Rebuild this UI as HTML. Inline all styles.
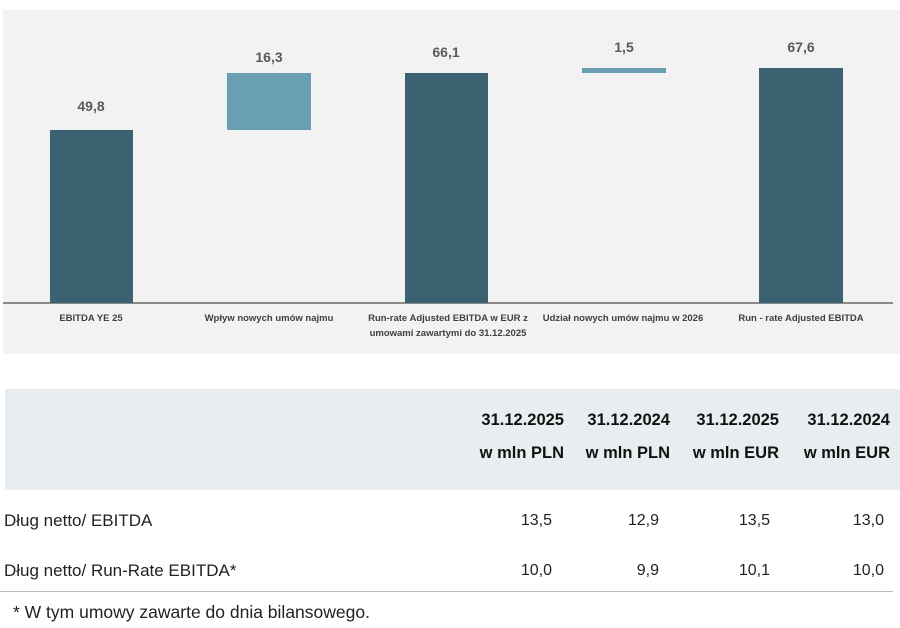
<!DOCTYPE html>
<html><head><meta charset="utf-8"><style>
body{margin:0;width:900px;height:628px;background:#fff;position:relative;font-family:"Liberation Sans",sans-serif;overflow:hidden}
.a{position:absolute}
.bar{position:absolute;background:#3c6272}
.v{position:absolute;width:120px;text-align:center;font-weight:bold;font-size:14px;color:#595959}
.c{position:absolute;width:200px;text-align:center;font-size:9.5px;font-weight:bold;color:#404040;line-height:15px}
.h{position:absolute;font-weight:bold;font-size:16.5px;color:#111;text-align:right;width:110px}
.t{position:absolute;font-size:16px;color:#222;text-align:right;width:110px}
</style></head><body>
<div class="a" style="left:3px;top:10px;width:897px;height:344px;background:#f2f2f2"></div>
<div class="a" style="left:3px;top:302px;width:890px;height:2px;background:#8a8a8a"></div>
<div class="bar" style="left:50px;top:130px;width:83px;height:173px"></div>
<div class="bar" style="left:227px;top:73px;width:84px;height:57px;background:#6a9fb3"></div>
<div class="bar" style="left:405px;top:73px;width:83px;height:230px"></div>
<div class="bar" style="left:582px;top:68px;width:84px;height:5px;background:#6a9fb3"></div>
<div class="bar" style="left:759px;top:68px;width:84px;height:235px"></div>
<div class="v" style="left:31px;top:98px">49,8</div>
<div class="v" style="left:209px;top:49px">16,3</div>
<div class="v" style="left:386px;top:44px">66,1</div>
<div class="v" style="left:564px;top:39px">1,5</div>
<div class="v" style="left:741px;top:39px">67,6</div>
<div class="c" style="left:-9px;top:311px">EBITDA YE 25</div>
<div class="c" style="left:169px;top:311px">Wpływ nowych umów najmu</div>
<div class="c" style="left:348px;top:311px">Run-rate Adjusted EBITDA w EUR z<br>umowami zawartymi do 31.12.2025</div>
<div class="c" style="left:523px;top:311px">Udział nowych umów najmu w 2026</div>
<div class="c" style="left:701px;top:311px">Run - rate Adjusted EBITDA</div>
<div class="a" style="left:5px;top:389px;width:895px;height:101px;background:#e8eef0"></div>
<div class="h" style="left:454px;top:411px">31.12.2025</div>
<div class="h" style="left:560px;top:411px">31.12.2024</div>
<div class="h" style="left:669px;top:411px">31.12.2025</div>
<div class="h" style="left:780px;top:411px">31.12.2024</div>
<div class="h" style="left:454px;top:444px">w mln PLN</div>
<div class="h" style="left:560px;top:444px">w mln PLN</div>
<div class="h" style="left:669px;top:444px">w mln EUR</div>
<div class="h" style="left:780px;top:444px">w mln EUR</div>
<div class="a" style="left:4px;top:511px;font-size:17px;color:#222">Dług netto/ EBITDA</div>
<div class="a" style="left:4px;top:561px;font-size:17px;color:#222">Dług netto/ Run-Rate EBITDA*</div>
<div class="t" style="left:442px;top:512px">13,5</div>
<div class="t" style="left:549px;top:512px">12,9</div>
<div class="t" style="left:660px;top:512px">13,5</div>
<div class="t" style="left:774px;top:512px">13,0</div>
<div class="t" style="left:442px;top:562px">10,0</div>
<div class="t" style="left:549px;top:562px">9,9</div>
<div class="t" style="left:660px;top:562px">10,1</div>
<div class="t" style="left:774px;top:562px">10,0</div>
<div class="a" style="left:0;top:591px;width:893px;height:1px;background:#bbb"></div>
<div class="a" style="left:13px;top:602px;font-size:17.5px;color:#222">* W tym umowy zawarte do dnia bilansowego.</div>
</body></html>
